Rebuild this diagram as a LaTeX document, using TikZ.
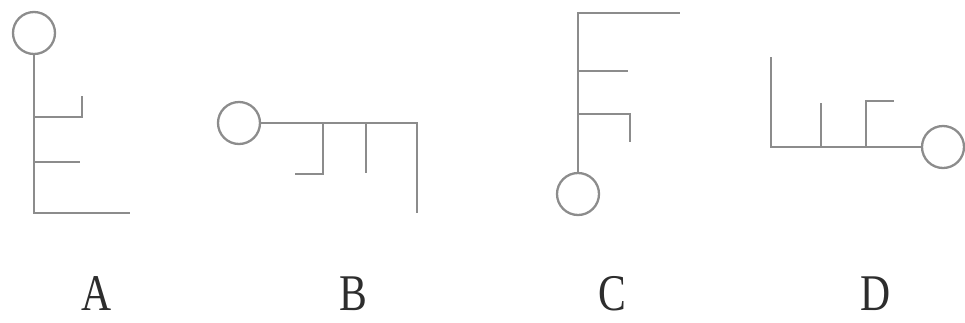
\documentclass[tikz,border=0pt]{standalone}
\usepackage{fontspec}
\setmainfont{Liberation Serif}
\definecolor{linegray}{RGB}{140,140,140}
\definecolor{txtgray}{RGB}{45,45,45}
\tikzset{
  stroke/.style={draw=linegray, line width=2.8pt, line cap=butt, line join=miter},
  ball/.style={circle, draw=linegray, line width=2.3pt, minimum size=42pt, inner sep=0pt},
  lbl/.style={text=txtgray, font=\fontsize{49}{49}\selectfont, xscale=0.85, yscale=1.05, inner sep=0pt, anchor=base}
}
\begin{document}
\begin{tikzpicture}[x=1pt,y=-1pt]
\useasboundingbox (0,0) rectangle (965,322);
% A
\node[ball] (ca) at (34,33) {};
\draw[stroke] (ca.south) -- (34,213) -- (130,213);
\draw[stroke] (34,117) -- (82,117) -- (82,96);
\draw[stroke] (34,162) -- (80,162);
% B
\node[ball] (cb) at (239,123) {};
\draw[stroke] (cb.east) -- (417,123) -- (417,213);
\draw[stroke] (323,123) -- (323,174) -- (295,174);
\draw[stroke] (366,123) -- (366,173);
% C
\node[ball] (cc) at (578,194) {};
\draw[stroke] (cc.north) -- (578,13) -- (680,13);
\draw[stroke] (578,71) -- (628,71);
\draw[stroke] (578,114) -- (630,114) -- (630,142);
% D
\node[ball] (cd) at (943,147) {};
\draw[stroke] (cd.west) -- (771,147) -- (771,57);
\draw[stroke] (821,147) -- (821,103);
\draw[stroke] (866,147) -- (866,101) -- (894,101);
% labels
\node[lbl] (la) at (97,310) {A};
\node[lbl] (lb) at (353,310) {B};
\node[lbl] (lc) at (612,310) {C};
\node[lbl] (ld) at (876,310) {D};
\end{tikzpicture}
\end{document}
